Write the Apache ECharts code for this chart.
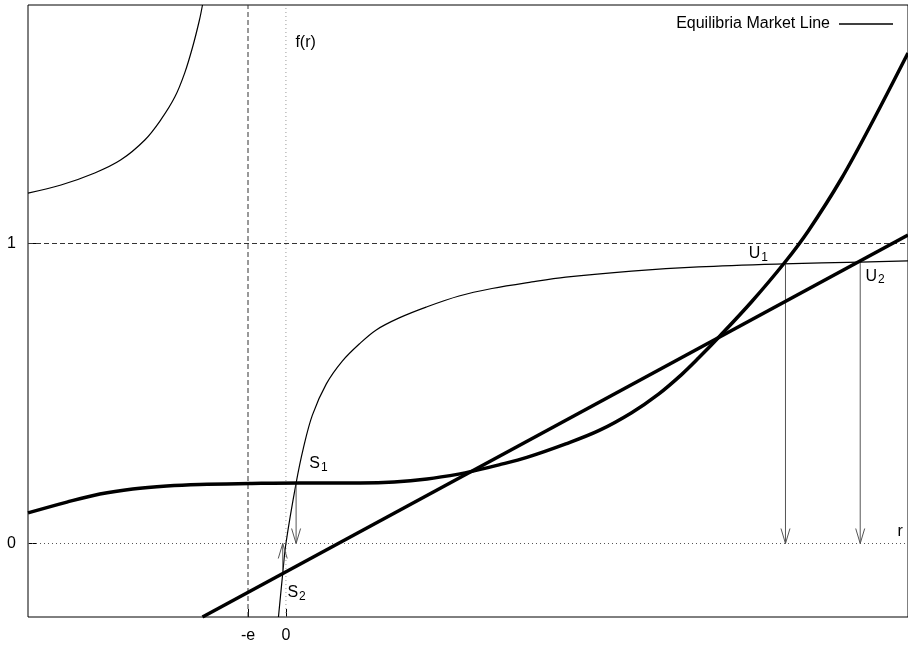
<!DOCTYPE html>
<html><head><meta charset="utf-8">
<script src="https://cdn.jsdelivr.net/npm/echarts@6/dist/echarts.min.js"></script>
<style>html,body{margin:0;padding:0;background:#fff}#c{width:908px;height:648px}</style>
</head><body><div id="c"></div>
<script>
// ---- data ----
const xTicks = [-1, 0];
const xTickLabels = ['-e', '0'];
const yTicks = [0, 1];
const yTickLabels = ['0', '1'];

// f(r), left branch
const fLeftX = [-6.80, -5.93, -5.04, -4.36, -3.72, -3.30, -2.93, -2.67, -2.46, -2.28, -2.20];
const fLeftY = [1.168, 1.195, 1.235, 1.278, 1.345, 1.412, 1.488, 1.568, 1.655, 1.745, 1.795];
// f(r), right branch
const fRightX = [-0.197, -0.084, 0, 0.268, 0.460, 0.697, 1.065, 1.486, 1.934, 2.381, 2.986, 3.696, 4.564, 5.432, 6.484, 7.378, 9.114, 10.877, 13.113, 15.139, 16.40];
const fRightY = [-0.245, -0.099, 0, 0.201, 0.318, 0.428, 0.532, 0.608, 0.665, 0.712, 0.752, 0.788, 0.825, 0.850, 0.872, 0.888, 0.908, 0.922, 0.932, 0.938, 0.942];
// thick cubic-like curve
const cubicX = [-6.80, -5.774, -4.906, -4.038, -3.143, -2.275, -0.960, 0.355, 1.960, 2.854, 3.722, 4.590, 4.958, 5.616, 6.352, 7.378, 8.246, 9.114, 9.824, 10.430, 10.877, 11.429, 12.271, 13.139, 13.771, 14.639, 15.481, 16.40];
const cubicY = [0.102, 0.138, 0.165, 0.182, 0.192, 0.197, 0.200, 0.202, 0.202, 0.205, 0.215, 0.232, 0.242, 0.262, 0.287, 0.332, 0.376, 0.436, 0.498, 0.563, 0.618, 0.690, 0.805, 0.935, 1.042, 1.215, 1.410, 1.635];
// thick straight line
const lineX = [-2.20, 16.40];
const lineY = [-0.245, 1.028];
// arrows
const arrowX = [0.268, -0.084, 13.17, 15.14];
const arrowFrom = [0.201, -0.099, 0.935, 0.938];
const arrowTo = [0, 0, 0, 0];
// labels
const labelMain = ['f(r)', 'S', 'S', 'U', 'U', 'r'];
const labelSub = ['', '1', '2', '1', '2', ''];
const labelX = [0.25, 0.618, 0.04, 12.2, 15.28, 16.12];
const labelY = [1.695, 0.292, -0.138, 0.992, 0.918, 0.068];

// ---- layout ----
const X_MIN = -6.8, X_MAX = 16.4, Y_MIN = -0.245, Y_MAX = 1.795;
const G_LEFT = 28, G_TOP = 5, G_W = 882, G_H = 612;
const pxX = G_W / (X_MAX - X_MIN), pxY = G_H / (Y_MAX - Y_MIN);
const FONT = 'Liberation Sans, Arial, Helvetica, sans-serif';

const zip = (xs, ys) => xs.map((x, i) => [x, ys[i]]);

const series = [];
// reference lines
series.push({type:'line', silent:true, symbol:'none', data:[[X_MIN,1],[X_MAX,1]], lineStyle:{color:'#333', width:1, type:[5,3]}});
series.push({type:'line', silent:true, symbol:'none', data:[[X_MIN,0],[X_MAX,0]], lineStyle:{color:'#555', width:1, type:[1,3]}});
series.push({type:'line', silent:true, symbol:'none', data:[[-1,Y_MIN],[-1,Y_MAX]], lineStyle:{color:'#333', width:1, type:[5,3]}});
series.push({type:'line', silent:true, symbol:'none', data:[[0,Y_MIN],[0,Y_MAX]], lineStyle:{color:'#999', width:1, type:[1,3]}});

// f(r)
series.push({
  name:'Equilibria Market Line', type:'line', symbol:'none', smooth:0.35,
  connectNulls:false,
  data: zip(fLeftX, fLeftY).concat([[ -1.2, null ]]).concat(zip(fRightX, fRightY)),
  lineStyle:{color:'#000', width:1.2}
});
// arrows
const hx = 4.5 / pxX, hy = 15 / pxY;
arrowX.forEach((x, i) => {
  const y0 = arrowFrom[i], y1 = arrowTo[i];
  const dir = y1 < y0 ? 1 : -1;
  series.push({type:'line', silent:true, symbol:'none', data:[[x,y0],[x,y1]], lineStyle:{color:'#555', width:1}});
  series.push({type:'line', silent:true, symbol:'none', data:[[x-hx,y1+dir*hy],[x,y1],[x+hx,y1+dir*hy]], lineStyle:{color:'#555', width:1}});
});
// thick curves
series.push({type:'line', silent:true, symbol:'none', smooth:0.35, data:zip(cubicX, cubicY), lineStyle:{color:'#000', width:3.5}});
series.push({type:'line', silent:true, symbol:'none', data:zip(lineX, lineY), lineStyle:{color:'#000', width:3.5}});
// labels
series.push({
  type:'scatter', silent:true, symbolSize:0, itemStyle:{opacity:1, color:'#000'},
  data: labelMain.map((t,i)=>({value:[labelX[i], labelY[i]], t, s:labelSub[i]})),
  label:{
    show:true, position:[0,0], align:'left', verticalAlign:'top', color:'#000', opacity:1,
    formatter: p => p.data.s ? '{m|' + p.data.t + '}{s|' + p.data.s + '}' : '{m|' + p.data.t + '}',
    rich:{
      m:{fontSize:16, lineHeight:16, color:'#000', fontFamily:FONT, verticalAlign:'top'},
      s:{fontSize:12, lineHeight:12, color:'#000', fontFamily:FONT, padding:[8,0,0,1]}
    }
  }
});

const chart = echarts.init(document.getElementById('c'), null, {renderer:'canvas'});
chart.setOption({
  animation:false,
  backgroundColor:'#fff',
  grid:{left:G_LEFT, top:G_TOP, width:G_W, height:G_H, show:true, borderColor:'#000', borderWidth:1, containLabel:false},
  legend:{
    show:true, right:10, top:11, bottom:'auto', left:'auto', orient:'horizontal', align:'right', itemWidth:54, itemHeight:1.4,
    data:[{name:'Equilibria Market Line', icon:'rect'}],
    textStyle:{fontSize:16, color:'#000', fontFamily:FONT, padding:[0,4,0,0]},
    itemStyle:{color:'#000', borderWidth:0}
  },
  xAxis:{
    type:'value', min:X_MIN, max:X_MAX,
    axisLine:{show:false, onZero:false}, splitLine:{show:false},
    axisTick:{show:true, inside:true, length:8, customValues:xTicks, lineStyle:{color:'#000'}},
    axisLabel:{show:true, margin:11, customValues:xTicks, fontSize:16, color:'#000', fontFamily:FONT,
      formatter: v => { const i = xTicks.findIndex(t => Math.abs(t - v) < 1e-9); return i >= 0 ? xTickLabels[i] : ''; }}
  },
  yAxis:{
    type:'value', min:Y_MIN, max:Y_MAX,
    axisLine:{show:false, onZero:false}, splitLine:{show:false},
    axisTick:{show:true, inside:true, length:8, customValues:yTicks, lineStyle:{color:'#000'}},
    axisLabel:{show:true, margin:12, customValues:yTicks, fontSize:16, color:'#000', fontFamily:FONT,
      formatter: v => { const i = yTicks.findIndex(t => Math.abs(t - v) < 1e-9); return i >= 0 ? yTickLabels[i] : ''; }}
  },
  series
});
</script></body></html>
